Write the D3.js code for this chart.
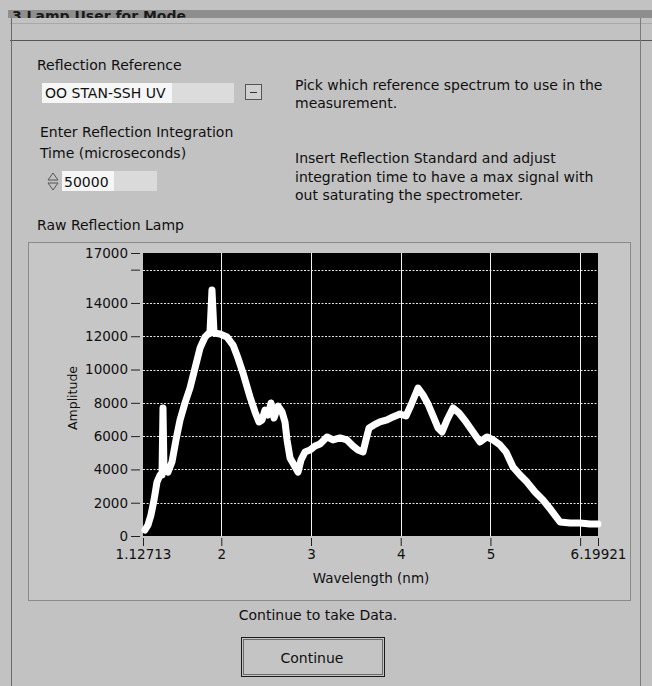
<!DOCTYPE html>
<html>
<head>
<meta charset="utf-8">
<script src="https://cdn.jsdelivr.net/npm/d3@7"></script>
<style>
  html, body { margin: 0; padding: 0; background: #c2c2c2; }
  svg { display: block; }
  text { font-family: "DejaVu Sans", Verdana, sans-serif; fill: #101010; }
</style>
</head>
<body>
<svg id="panel" width="652" height="686"></svg>
<script>
// Raw reflection lamp spectrum: wavelength (nm) and amplitude (counts)
const wavelength = [
  1.149, 1.183, 1.216, 1.250, 1.283, 1.317, 1.339, 1.350, 1.361, 1.406,
  1.450, 1.495, 1.540, 1.595, 1.651, 1.707, 1.763, 1.819, 1.874, 1.896,
  1.919, 1.986, 2.064, 2.131, 2.186, 2.242, 2.320, 2.376, 2.420, 2.454,
  2.487, 2.521, 2.554, 2.588, 2.632, 2.677, 2.710, 2.733, 2.766, 2.811,
  2.855, 2.889, 2.933, 2.989, 3.045, 3.100, 3.178, 3.245, 3.323, 3.401,
  3.468, 3.524, 3.580, 3.613, 3.647, 3.702, 3.769, 3.847, 3.914, 3.992,
  4.059, 4.115, 4.193, 4.249, 4.304, 4.360, 4.416, 4.461, 4.516, 4.583,
  4.650, 4.728, 4.806, 4.884, 4.962, 5.029, 5.107, 5.174, 5.252, 5.330,
  5.408, 5.497, 5.586, 5.676, 5.776, 5.887, 5.999, 6.110, 6.199
];
const amplitude = [
   360,   660,  1260,  2160,  3240,  3660,  3660,  7690,  3960,  3840,
  4440,  5770,  6970,  7990,  8890, 10090, 11290, 11950, 12250, 14780,
 12190, 12130, 11950, 11470, 10690,  9790,  8350,  7450,  6850,  6970,
  7570,  7270,  7990,  7090,  7810,  7450,  6850,  5770,  4690,  4270,
  3840,  4570,  5050,  5170,  5410,  5530,  5950,  5770,  5890,  5770,
  5410,  5170,  5050,  5770,  6490,  6670,  6850,  6970,  7150,  7330,
  7210,  7870,  8890,  8470,  7930,  7210,  6490,  6250,  6970,  7690,
  7390,  6850,  6250,  5650,  5950,  5770,  5470,  5050,  4150,  3660,
  3240,  2640,  2160,  1560,   840,   780,   780,   720,   720
];

// Axis ticks
const xDomain = [1.12713, 6.19921];
const xTickValues = [1.12713, 2, 3, 4, 5, 6, 6.19921];
const xLabelValues = [1.12713, 2, 3, 4, 5, 6.19921];
const xGridValues = [2, 3, 4, 5, 6];
const yDomain = [0, 17000];
const yTickValues = [0, 2000, 4000, 6000, 8000, 10000, 12000, 14000, 16000, 17000];
const yLabelValues = [0, 2000, 4000, 6000, 8000, 10000, 12000, 14000, 17000];
const yGridValues = [2000, 4000, 6000, 8000, 10000, 12000, 14000, 16000];

// Front-panel text
const windowTitle = "3 Lamp User for Mode";
const referenceLabel = "Reflection Reference";
const referenceValue = "OO STAN-SSH UV";
const integrationLabel = ["Enter Reflection Integration", "Time (microseconds)"];
const integrationValue = "50000";
const pickHelp = ["Pick which reference spectrum to use in the", "measurement."];
const insertHelp = ["Insert Reflection Standard and adjust", "integration time to have a max signal with", "out saturating the spectrometer."];
const graphTitle = "Raw Reflection Lamp";
const xTitle = "Wavelength (nm)";
const yTitle = "Amplitude";
const continueHint = "Continue to take Data.";
const continueLabel = "Continue";

const FS = "14px";
const svg = d3.select("#panel");

// ---- window chrome ----
const clip = svg.append("defs").append("clipPath").attr("id", "titleClip");
clip.append("rect").attr("x", 0).attr("y", 10).attr("width", 652).attr("height", 8);
svg.append("rect").attr("x", 8).attr("y", 10).attr("width", 644).attr("height", 8).attr("fill", "#8e8e8e");
svg.append("text").attr("x", 12).attr("y", 21)
  .attr("clip-path", "url(#titleClip)")
  .style("font-size", "14px").style("font-weight", "bold").style("fill", "#1a1a1a")
  .text(windowTitle);
svg.append("line").attr("x1", 10).attr("x2", 652).attr("y1", 23.5).attr("y2", 23.5).attr("stroke", "#a8a8a8");
svg.append("line").attr("x1", 10).attr("x2", 652).attr("y1", 40.5).attr("y2", 40.5).attr("stroke", "#555");
svg.append("line").attr("x1", 11.5).attr("x2", 11.5).attr("y1", 18).attr("y2", 686).attr("stroke", "#6a6a6a");
svg.append("line").attr("x1", 640.5).attr("x2", 640.5).attr("y1", 18).attr("y2", 686).attr("stroke", "#7a7a7a");

// ---- reference selector ----
svg.append("text").attr("x", 37).attr("y", 70).style("font-size", FS).text(referenceLabel);
svg.append("rect").attr("x", 42).attr("y", 83).attr("width", 192).attr("height", 20).attr("fill", "#dcdcdc");
svg.append("rect").attr("x", 42).attr("y", 83).attr("width", 130).attr("height", 20).attr("fill", "#f6f6f6");
svg.append("text").attr("x", 45).attr("y", 98).style("font-size", FS).text(referenceValue);
svg.append("rect").attr("x", 245.5).attr("y", 84.5).attr("width", 16).attr("height", 15)
  .attr("fill", "#d0d0d0").attr("stroke", "#555");
svg.append("line").attr("x1", 250).attr("x2", 257).attr("y1", 92.5).attr("y2", 92.5).attr("stroke", "#333");

// ---- help text ----
pickHelp.forEach((t, i) =>
  svg.append("text").attr("x", 295).attr("y", 90 + i * 18).style("font-size", FS).text(t));
insertHelp.forEach((t, i) =>
  svg.append("text").attr("x", 295).attr("y", 163 + i * 18.5).style("font-size", FS).text(t));

// ---- integration time control ----
integrationLabel.forEach((t, i) =>
  svg.append("text").attr("x", 40).attr("y", 137 + i * 21).style("font-size", FS).text(t));
svg.append("rect").attr("x", 62).attr("y", 171).attr("width", 95).attr("height", 20).attr("fill", "#dadada");
svg.append("rect").attr("x", 62).attr("y", 171).attr("width", 52).attr("height", 20).attr("fill", "#f6f6f6");
svg.append("text").attr("x", 64).attr("y", 186.5).style("font-size", FS).text(integrationValue);
svg.append("path").attr("d", "M48,180 L53,173 L58,180 Z").attr("fill", "none").attr("stroke", "#555");
svg.append("path").attr("d", "M48,183 L53,190 L58,183 Z").attr("fill", "none").attr("stroke", "#555");

// ---- graph panel ----
svg.append("text").attr("x", 37).attr("y", 230).style("font-size", FS).text(graphTitle);
svg.append("rect").attr("x", 28.5).attr("y", 242.5).attr("width", 602).attr("height", 358)
  .attr("fill", "#c6c6c6").attr("stroke", "#8a8a8a");

const x = d3.scaleLinear().domain(xDomain).range([143, 598]);
const y = d3.scaleLinear().domain(yDomain).range([536, 253]);

svg.append("rect").attr("x", x.range()[0]).attr("y", y.range()[1])
  .attr("width", x.range()[1] - x.range()[0]).attr("height", y.range()[0] - y.range()[1])
  .attr("fill", "#000");

// grid
svg.append("g").selectAll("line").data(yGridValues).join("line")
  .attr("x1", x.range()[0]).attr("x2", x.range()[1])
  .attr("y1", d => Math.round(y(d)) + 0.5).attr("y2", d => Math.round(y(d)) + 0.5)
  .attr("stroke", "#e6e6e6").attr("stroke-dasharray", "2,1.5");
svg.append("g").selectAll("line").data(xGridValues).join("line")
  .attr("x1", d => Math.round(x(d)) + 0.5).attr("x2", d => Math.round(x(d)) + 0.5)
  .attr("y1", y.range()[1]).attr("y2", y.range()[0])
  .attr("stroke", "#f2f2f2");

// spectrum trace
const line = d3.line().x((d, i) => x(wavelength[i])).y(d => y(d));
svg.append("path").datum(amplitude)
  .attr("d", line)
  .attr("fill", "none").attr("stroke", "#fff")
  .attr("stroke-width", 7).attr("stroke-linejoin", "round").attr("stroke-linecap", "round");

// axes
const fmt = d => String(d);
const yAxis = d3.axisLeft(y).tickValues(yTickValues).tickSize(9).tickPadding(3)
  .tickFormat(d => yLabelValues.includes(d) ? fmt(d) : "");
const gy = svg.append("g").attr("transform", `translate(${x.range()[0] - 3},0)`).call(yAxis);
gy.select(".domain").remove();
gy.selectAll(".tick line").attr("stroke", "#222");
gy.selectAll(".tick text").style("font-size", "13.5px").style("font-family", "DejaVu Sans, sans-serif").attr("fill", "#101010");

const xAxis = d3.axisBottom(x).tickValues(xTickValues).tickSize(8).tickPadding(3)
  .tickFormat(d => xLabelValues.includes(d) ? fmt(d) : "");
const gx = svg.append("g").attr("transform", `translate(0,${y.range()[0] + 2})`).call(xAxis);
gx.select(".domain").remove();
gx.selectAll(".tick line").attr("stroke", "#222");
gx.selectAll(".tick text").style("font-size", "13.5px").style("font-family", "DejaVu Sans, sans-serif").attr("fill", "#101010");

svg.append("text").attr("transform", "translate(77,398) rotate(-90)")
  .attr("text-anchor", "middle").style("font-size", "12.5px").text(yTitle);
svg.append("text").attr("x", 371).attr("y", 583)
  .attr("text-anchor", "middle").style("font-size", "13.5px").text(xTitle);

// ---- continue button ----
svg.append("text").attr("x", 318).attr("y", 620)
  .attr("text-anchor", "middle").style("font-size", FS).text(continueHint);
svg.append("rect").attr("x", 241.5).attr("y", 637.5).attr("width", 143).attr("height", 39)
  .attr("fill", "#c4c4c4").attr("stroke", "#1a1a1a");
svg.append("rect").attr("x", 243.5).attr("y", 639.5).attr("width", 139).attr("height", 35)
  .attr("fill", "none").attr("stroke", "#6a6a6a");
svg.append("text").attr("x", 312).attr("y", 663)
  .attr("text-anchor", "middle").style("font-size", FS).text(continueLabel);
</script>
</body>
</html>
